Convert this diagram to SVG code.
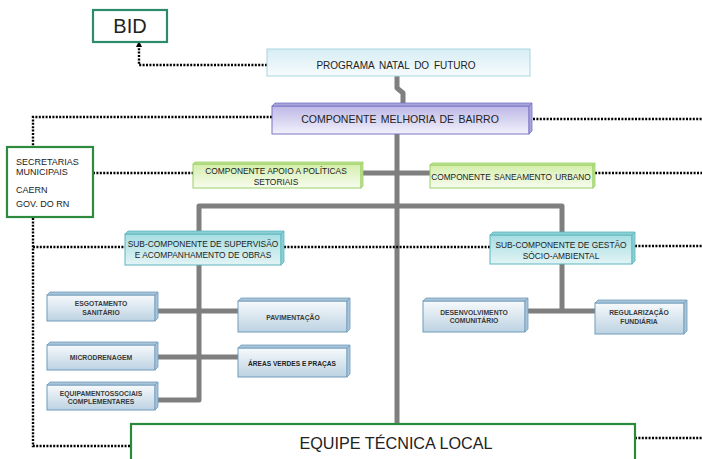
<svg xmlns="http://www.w3.org/2000/svg" width="702" height="459" viewBox="0 0 702 459">
<defs>
<linearGradient id="gProg" x1="0" y1="0" x2="0" y2="1"><stop offset="0" stop-color="#d6eef4"/><stop offset="1" stop-color="#f6fbfc"/></linearGradient>
<linearGradient id="gMel" x1="0" y1="0" x2="0" y2="1"><stop offset="0" stop-color="#bdb8e6"/><stop offset="1" stop-color="#f2f1fb"/></linearGradient>
<linearGradient id="gGreen" x1="0" y1="0" x2="0" y2="1"><stop offset="0" stop-color="#d4eeaa"/><stop offset="1" stop-color="#f7fcef"/></linearGradient>
<linearGradient id="gTeal" x1="0" y1="0" x2="0" y2="1"><stop offset="0" stop-color="#a6dde2"/><stop offset="1" stop-color="#e2f4f5"/></linearGradient>
<linearGradient id="gBlue" x1="0" y1="0" x2="0" y2="1"><stop offset="0" stop-color="#f7fafc"/><stop offset="1" stop-color="#bcd2e2"/></linearGradient>
<marker id="arr" markerWidth="6" markerHeight="6" refX="3" refY="3" orient="auto" markerUnits="userSpaceOnUse"><path d="M0,0 L6,3 L0,6 Z" fill="#000"/></marker>
</defs>
<style>
text{font-family:"Liberation Sans",Arial,sans-serif;fill:#222}
.dot{fill:none;stroke:#000;stroke-width:2.4;stroke-dasharray:2 1.4}
.gray{fill:none;stroke:#7f7f7f;stroke-width:5;stroke-linejoin:round}
.prog{fill:url(#gProg);stroke:#a9d6e0;stroke-width:1}
.mel{fill:url(#gMel);stroke:#7a74c4;stroke-width:1}
.grn{fill:url(#gGreen);stroke:#9bcf66;stroke-width:1}
.teal{fill:url(#gTeal);stroke:#5ab6be;stroke-width:1}
.blue{fill:url(#gBlue);stroke:#6f9cbc;stroke-width:1}
.side-mel{fill:#a9a4dc;stroke:#7a74c4;stroke-width:0.8}
.side-grn{fill:#c2e496;stroke:#9bcf66;stroke-width:0.8}
.side-teal{fill:#8ccfd5;stroke:#5ab6be;stroke-width:0.8}
.side-blue{fill:#a9c4d8;stroke:#6f9cbc;stroke-width:0.8}
.frame{fill:#fff;stroke-width:2.2}
.t10{font-size:10px;text-anchor:middle}
.t8{font-size:8.4px;text-anchor:middle}
.t7{font-size:6.8px;font-weight:bold;text-anchor:middle;fill:#3a3a3a}
</style>

<g id="connectors">
<polyline class="gray" points="397,76 397,88 403,93 403,103"/>
<path class="gray" d="M397,133 V424"/>
<path class="gray" d="M363,173 H430"/>
<path class="gray" d="M199,231 V206 H562 V232"/>
<path class="gray" d="M199,265 V400 H158"/>
<path class="gray" d="M158,311 H238"/>
<path class="gray" d="M158,357 H238"/>
<path class="gray" d="M562,264 V311"/>
<path class="gray" d="M528,311 H595"/>
<path class="dot" d="M267,65 H139 V44" marker-end="url(#arr)"/>
<path class="dot" d="M272,117 H33 V446 H131"/>
<path class="dot" d="M533,119 H702"/>
<path class="dot" d="M93,173 H193"/>
<path class="dot" d="M595,173 H702"/>
<path class="dot" d="M33,247 H125"/>
<path class="dot" d="M284,247 H490"/>
<path class="dot" d="M635,246 H702"/>
<path class="dot" d="M635,438 H702"/>
</g>

<g id="bid">
<rect class="frame" x="93" y="10" width="74" height="32" stroke="#2e8b6a"/>
<text x="130" y="33" font-size="20" text-anchor="middle">BID</text>
</g>

<g id="programa">
<rect class="prog" x="267" y="49" width="263" height="27"/>
<text class="t10" x="396" y="69" word-spacing="2">PROGRAMA NATAL DO FUTURO</text>
</g>

<g id="melhoria">
<rect class="mel" x="272" y="106" width="257" height="28"/>
<polygon class="side-mel" points="272,106 275,103 532,103 529,106"/>
<polygon class="side-mel" points="529,106 532,103 532,131 529,134"/>
<text x="400" y="123" font-size="10.5" text-anchor="middle" word-spacing="1.5">COMPONENTE MELHORIA DE BAIRRO</text>
</g>

<g id="secretarias">
<rect class="frame" x="7" y="147" width="86" height="70" stroke="#2e8b3e"/>
<text x="16" y="164.5" font-size="9">SECRETARIAS</text>
<text x="16" y="174.5" font-size="9">MUNICIPAIS</text>
<text x="16" y="192.5" font-size="9">CAERN</text>
<text x="16" y="206.5" font-size="9">GOV. DO RN</text>
</g>

<g id="apoio">
<rect class="grn" x="193" y="164" width="168" height="24"/>
<polygon class="side-grn" points="193,164 195,162 363,162 361,164"/>
<polygon class="side-grn" points="361,164 363,162 363,186 361,188"/>
<text class="t8" x="276" y="174" font-size="8.2">COMPONENTE APOIO A POLÍTICAS</text>
<text class="t8" x="276" y="184.5" font-size="8.2">SETORIAIS</text>
</g>

<g id="saneamento">
<rect class="grn" x="430" y="165" width="163" height="23"/>
<polygon class="side-grn" points="430,165 432,163 595,163 593,165"/>
<polygon class="side-grn" points="593,165 595,163 595,186 593,188"/>
<text x="511" y="180" font-size="8.3" text-anchor="middle" word-spacing="1">COMPONENTE SANEAMENTO URBANO</text>
</g>

<g id="sub-supervisao">
<rect class="teal" x="125" y="234" width="156" height="31"/>
<polygon class="side-teal" points="125,234 128,231 284,231 281,234"/>
<polygon class="side-teal" points="281,234 284,231 284,262 281,265"/>
<text class="t8" x="203" y="246.5">SUB-COMPONENTE DE SUPERVISÃO</text>
<text class="t8" x="203" y="257.5">E ACOMPANHAMENTO DE OBRAS</text>
</g>

<g id="sub-gestao">
<rect class="teal" x="490" y="235" width="142" height="29"/>
<polygon class="side-teal" points="490,235 493,232 635,232 632,235"/>
<polygon class="side-teal" points="632,235 635,232 635,261 632,264"/>
<text class="t8" x="561" y="247.5">SUB-COMPONENTE DE GESTÃO</text>
<text class="t8" x="561" y="258.5">SÓCIO-AMBIENTAL</text>
</g>

<g id="esgotamento">
<rect class="blue" x="47" y="295" width="108" height="26"/>
<polygon class="side-blue" points="47,295 50,292 158,292 155,295"/>
<polygon class="side-blue" points="155,295 158,292 158,318 155,321"/>
<text class="t7" x="101" y="306">ESGOTAMENTO</text>
<text class="t7" x="101" y="315">SANITÁRIO</text>
</g>

<g id="pavimentacao">
<rect class="blue" x="238" y="301" width="109" height="31"/>
<polygon class="side-blue" points="238,301 241,298 350,298 347,301"/>
<polygon class="side-blue" points="347,301 350,298 350,329 347,332"/>
<text class="t7" x="293" y="319.5">PAVIMENTAÇÃO</text>
</g>

<g id="microdrenagem">
<rect class="blue" x="47" y="345" width="108" height="25"/>
<polygon class="side-blue" points="47,345 50,342 158,342 155,345"/>
<polygon class="side-blue" points="155,345 158,342 158,367 155,370"/>
<text class="t7" x="101" y="359.5">MICRODRENAGEM</text>
</g>

<g id="areas-verdes">
<rect class="blue" x="238" y="348" width="109" height="29"/>
<polygon class="side-blue" points="238,348 241,345 350,345 347,348"/>
<polygon class="side-blue" points="347,348 350,345 350,374 347,377"/>
<text x="292" y="365.5" font-size="6.6" text-anchor="middle" fill="#3a3a3a" font-weight="bold">ÁREAS VERDES E PRAÇAS</text>
</g>

<g id="equipamentos">
<rect class="blue" x="47" y="385" width="108" height="25"/>
<polygon class="side-blue" points="47,385 50,382 158,382 155,385"/>
<polygon class="side-blue" points="155,385 158,382 158,407 155,410"/>
<text class="t7" x="101" y="395.5">EQUIPAMENTOSSOCIAIS</text>
<text class="t7" x="101" y="403.5">COMPLEMENTARES</text>
</g>

<g id="desenvolvimento">
<rect class="blue" x="423" y="301" width="102" height="31"/>
<polygon class="side-blue" points="423,301 426,298 528,298 525,301"/>
<polygon class="side-blue" points="525,301 528,298 528,329 525,332"/>
<text class="t7" x="474" y="314.5">DESENVOLVIMENTO</text>
<text class="t7" x="474" y="322.5">COMUNITÁRIO</text>
</g>

<g id="regularizacao">
<rect class="blue" x="595" y="303" width="89" height="31"/>
<polygon class="side-blue" points="595,303 598,300 687,300 684,303"/>
<polygon class="side-blue" points="684,303 687,300 687,331 684,334"/>
<text class="t7" x="639" y="314.5">REGULARIZAÇÃO</text>
<text class="t7" x="639" y="323.5">FUNDIÁRIA</text>
</g>

<g id="equipe">
<rect class="frame" x="131" y="424" width="504" height="38" stroke="#2a8a3c" stroke-width="2.5"/>
<text x="396" y="449" font-size="16.2" text-anchor="middle">EQUIPE TÉCNICA LOCAL</text>
</g>
</svg>
